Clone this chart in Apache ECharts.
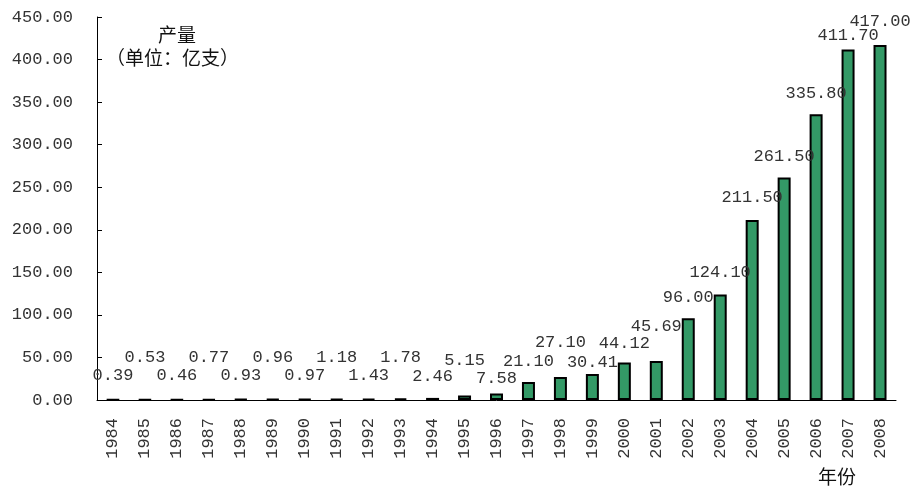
<!DOCTYPE html>
<html>
<head>
<meta charset="utf-8">
<script src="https://cdn.jsdelivr.net/npm/echarts@6/dist/echarts.min.js"></script>
<style>
  html, body { margin: 0; padding: 0; background: #fff; }
  #main { width: 913px; height: 490px; }
</style>
</head>
<body>
<div id="main"></div>
<script>
const years = ['1984', '1985', '1986', '1987', '1988', '1989', '1990', '1991', '1992', '1993',
  '1994', '1995', '1996', '1997', '1998', '1999', '2000', '2001', '2002', '2003',
  '2004', '2005', '2006', '2007', '2008'];
const output = [0.39, 0.53, 0.46, 0.77, 0.93, 0.96, 0.97, 1.18, 1.43, 1.78,
  2.46, 5.15, 7.58, 21.10, 27.10, 30.41, 44.12, 45.69, 96.00, 124.10,
  211.50, 261.50, 335.80, 411.70, 417.00];
const yTicks = [0, 50, 100, 150, 200, 250, 300, 350, 400, 450];

// distance of each value label's centre above its bar (px), as staggered in the original
const labelGap = [23, 41, 23, 41, 23, 41, 23, 41, 23, 41,
  21, 35, 15, 21, 34, 12, 19, 35, 21, 22,
  22, 21, 21, 14, 24];

const numFont = '"Liberation Mono", "DejaVu Sans Mono", monospace';
const cjkFont = '"Noto Sans CJK SC", sans-serif';
const textColor = '#333';

const chart = echarts.init(document.getElementById('main'));

const option = {
  animation: false,
  grid: { left: 97, right: 17, top: 17, bottom: 90 },
  xAxis: {
    type: 'category',
    data: years,
    axisLine: { lineStyle: { color: '#000', width: 1 } },
    axisTick: { inside: true, length: 5, lineStyle: { color: '#000' } },
    axisLabel: {
      rotate: 90,
      margin: 18,
      color: textColor,
      fontFamily: numFont,
      fontSize: 17
    }
  },
  yAxis: {
    type: 'value',
    min: yTicks[0],
    max: yTicks[yTicks.length - 1],
    interval: 50,
    splitLine: { show: false },
    axisLine: { show: true, lineStyle: { color: '#000', width: 1 } },
    axisTick: { show: true, inside: true, length: 5, lineStyle: { color: '#000' } },
    axisLabel: {
      margin: 24,
      color: textColor,
      fontFamily: numFont,
      fontSize: 17,
      formatter: v => v.toFixed(2)
    }
  },
  series: [{
    type: 'bar',
    barWidth: 13,
    itemStyle: { color: '#339966', borderColor: '#000', borderWidth: 2 },
    data: output.map((v, i) => ({
      value: v,
      label: { distance: labelGap[i] - 8 }
    })),
    label: {
      show: true,
      position: 'top',
      color: textColor,
      fontFamily: numFont,
      fontSize: 17,
      lineHeight: 16,
      formatter: p => p.value.toFixed(2)
    }
  }],
  graphic: [
    {
      type: 'text', left: 158, top: 25,
      style: { text: '产量', font: '19px ' + cjkFont, fill: '#111' }
    },
    {
      type: 'text', left: 106, top: 48,
      style: { text: '（单位：亿支）', font: '19px ' + cjkFont, fill: '#111' }
    },
    {
      type: 'text', left: 818, top: 467,
      style: { text: '年份', font: '19px ' + cjkFont, fill: '#111' }
    }
  ]
};

chart.setOption(option);
</script>
</body>
</html>
